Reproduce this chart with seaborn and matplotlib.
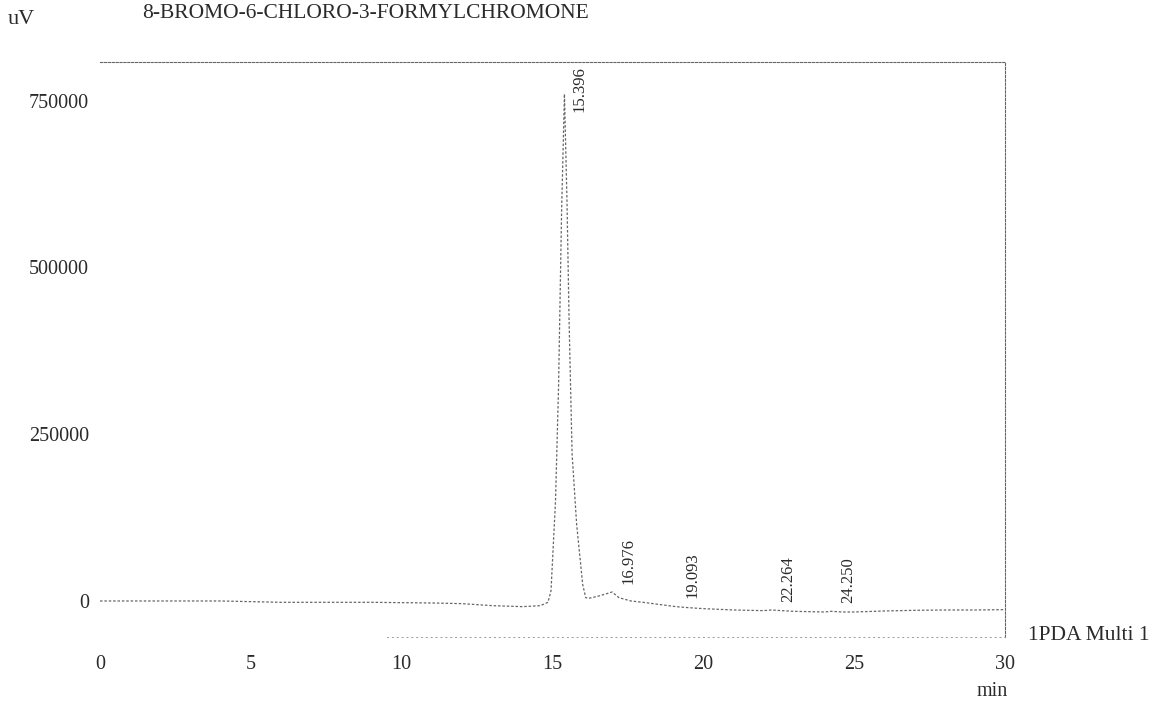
import numpy as np
import pandas as pd
import matplotlib
matplotlib.use("Agg")
import matplotlib.pyplot as plt
import seaborn as sns

# trace (time in min, signal in uV)
time_min = [0, 1, 2, 3, 4, 5, 6, 7, 8, 9, 10, 11, 12, 13, 14, 14.6, 14.85,
            14.95, 15.1, 15.2, 15.3, 15.396, 15.48, 15.55, 15.65, 15.8, 16.0,
            16.1, 16.2, 16.5, 16.8, 16.976, 17.2, 17.6, 18.0, 18.5, 19.093, 19.5,
            20.0, 20.5, 21.0, 21.5, 22.0, 22.264, 22.6, 23.0, 23.5, 24.0,
            24.25, 24.6, 25.0, 26.0, 27.0, 28.0, 29.0, 30.0]
signal_uv = [0, 0, 0, 0, 0, -1000, -2000, -2000, -2000, -2000, -2500, -3000,
             -4000, -7000, -8500, -7000, -2000,
             15000, 150000, 320000, 580000, 760000, 600000, 420000, 220000,
             115000, 25000,
             5000, 4000, 7000, 11000, 13500, 5000, 0, -2000, -5000, -8500, -10000,
             -11500, -12500, -13500, -14000, -14500, -13500, -14500, -15500,
             -16000, -16500, -15500, -16500, -16500, -15000, -14000, -13500,
             -13500, -13000]

peak_times = [15.396, 16.976, 19.093, 22.264, 24.250]
peak_heights = [760000, 13500, -8500, -13500, -15500]
peak_labels = ["15.396", "16.976", "19.093", "22.264", "24.250"]

x_ticks = [0, 5, 10, 15, 20, 25, 30]
y_ticks = [0, 250000, 500000, 750000]

sns.set_style("white")
plt.rcParams["font.family"] = ["Liberation Serif", "DejaVu Serif"]
ink = "#2a2a2a"

df = pd.DataFrame({"time": time_min, "signal": signal_uv})

fig = plt.figure(figsize=(11.53, 7.03), dpi=100)
ax = fig.add_axes([100 / 1153, 66 / 703, 905 / 1153, 575 / 703])

sns.lineplot(data=df, x="time", y="signal", ax=ax, color="#666666",
             linewidth=0.9, linestyle=(0, (2, 1.5)))

ax.set_xlim(0, 30)
ax.set_ylim(-54000, 808000)
ax.set_xticks(x_ticks)
ax.set_xticklabels([str(t) for t in x_ticks])
ax.set_yticks(y_ticks)
ax.set_yticklabels([str(t) for t in y_ticks])
ax.tick_params(axis="x", length=0, pad=13, labelsize=14.5, labelcolor=ink)
ax.tick_params(axis="y", length=0, pad=8, labelsize=14.5, labelcolor=ink)
ax.set_xlabel("")
ax.set_ylabel("")

# frame as printed: dotted top/right, faint bottom, no left
ax.spines["left"].set_visible(False)
for side in ["top", "right"]:
    ax.spines[side].set_linestyle((0, (2, 1.5)))
    ax.spines[side].set_color("#666666")
    ax.spines[side].set_linewidth(0.8)
ax.spines["bottom"].set_linestyle((0, (1, 4)))
ax.spines["bottom"].set_color("#999999")
ax.spines["bottom"].set_linewidth(0.7)
ax.spines["bottom"].set_bounds(9.5, 30)

# peak retention time labels
ytop = ax.get_ylim()[1]
for t, h, lab in zip(peak_times, peak_heights, peak_labels):
    if h > 0.8 * ytop:
        ax.annotate(lab, xy=(t, ytop), xytext=(11, -3), textcoords="offset points",
                    rotation=90, ha="center", va="top", fontsize=12, color=ink)
    else:
        ax.annotate(lab, xy=(t, h), xytext=(12, 6), textcoords="offset points",
                    rotation=90, ha="center", va="bottom", fontsize=12, color=ink)

fig.text(142 / 1153, 1 - 13 / 703, "8-BROMO-6-CHLORO-3-FORMYLCHROMONE",
         fontsize=15.5, color=ink, va="center", ha="left")
fig.text(8 / 1153, 1 - 19 / 703, "uV", fontsize=16, color=ink, va="center", ha="left")
fig.text(992 / 1153, 1 - 692 / 703, "min", fontsize=14.5, color=ink, va="center", ha="center")
fig.text(1028 / 1153, 1 - 636 / 703, "1PDA Multi 1", fontsize=15.5, color=ink,
         va="center", ha="left")

fig.savefig("out.png", dpi=100)
